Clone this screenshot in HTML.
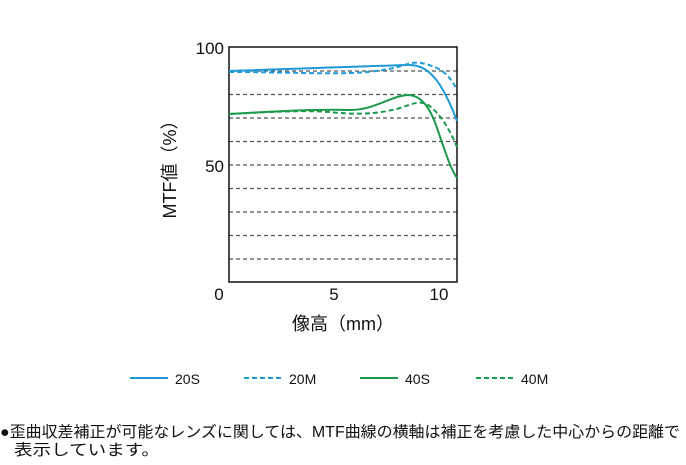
<!DOCTYPE html>
<html><head><meta charset="utf-8"><style>
body{margin:0;background:#fff;width:686px;height:460px;overflow:hidden}
svg text{font-family:"Liberation Sans","Noto Sans CJK JP",sans-serif;fill:#111}
</style></head><body>
<svg width="686" height="460" viewBox="0 0 686 460">
<g stroke="#555" stroke-width="1.2" stroke-dasharray="4,3">
<line x1="229" x2="457" y1="71" y2="71"/><line x1="229" x2="457" y1="94.5" y2="94.5"/>
<line x1="229" x2="457" y1="118" y2="118"/><line x1="229" x2="457" y1="141.5" y2="141.5"/>
<line x1="229" x2="457" y1="165" y2="165"/><line x1="229" x2="457" y1="188.5" y2="188.5"/>
<line x1="229" x2="457" y1="212" y2="212"/><line x1="229" x2="457" y1="235.5" y2="235.5"/>
<line x1="229" x2="457" y1="259" y2="259"/>
</g>
<rect x="229" y="47" width="228" height="235" fill="none" stroke="#111" stroke-width="1.5"/>
<g fill="none" stroke-width="2">
<path d="M229,71 C300,69 370,66 405,65 C420,64 430,70 440,85 C448,98 453,110 457,121" stroke="#1e9bd7"/>
<path d="M229,72 C280,72 320,74 350,73 C380,72 395,68 408,64 C416,61 425,63 437,68 C447,73 452,80 457,90" stroke="#1e9bd7" stroke-dasharray="5,3"/>
<path d="M229,114 C280,111 320,109 350,110 C375,110 390,96 408,95 C418,95 428,103 436,125 C444,148 450,168 457,178" stroke="#1a9a4a"/>
<path d="M229,114 C270,112 300,110 330,112 C355,115 380,114 400,108 C412,104 420,100 428,105 C440,113 450,130 457,147" stroke="#1a9a4a" stroke-dasharray="5,3"/>
</g>
<text x="224" y="54" font-size="17" text-anchor="end">100</text>
<text x="224" y="172" font-size="17" text-anchor="end">50</text>
<text x="219" y="300" font-size="17" text-anchor="middle">0</text>
<text x="334" y="300" font-size="17" text-anchor="middle">5</text>
<text x="439" y="300" font-size="17" text-anchor="middle">10</text>
<text transform="translate(176,165) rotate(-90)" font-size="18" text-anchor="middle">MTF値（%）</text>
<text x="343" y="330" font-size="18" text-anchor="middle">像高（mm）</text>
<line x1="130" x2="168" y1="378" y2="378" stroke="#1e9bd7" stroke-width="2"/>
<text x="175" y="384" font-size="14">20S</text>
<line x1="244" x2="282" y1="378" y2="378" stroke="#1e9bd7" stroke-width="2" stroke-dasharray="5,3"/>
<text x="289" y="384" font-size="14">20M</text>
<line x1="360" x2="398" y1="378" y2="378" stroke="#1a9a4a" stroke-width="2"/>
<text x="405" y="384" font-size="14">40S</text>
<line x1="476" x2="514" y1="378" y2="378" stroke="#1a9a4a" stroke-width="2" stroke-dasharray="5,3"/>
<text x="521" y="384" font-size="14">40M</text>
<text x="0" y="437" font-size="15.5" textLength="680" lengthAdjust="spacingAndGlyphs">●歪曲収差補正が可能なレンズに関しては、MTF曲線の横軸は補正を考慮した中心からの距離で</text>
<text x="14" y="455" font-size="15.5" textLength="146" lengthAdjust="spacingAndGlyphs">表示しています。</text>
</svg>
</body></html>
